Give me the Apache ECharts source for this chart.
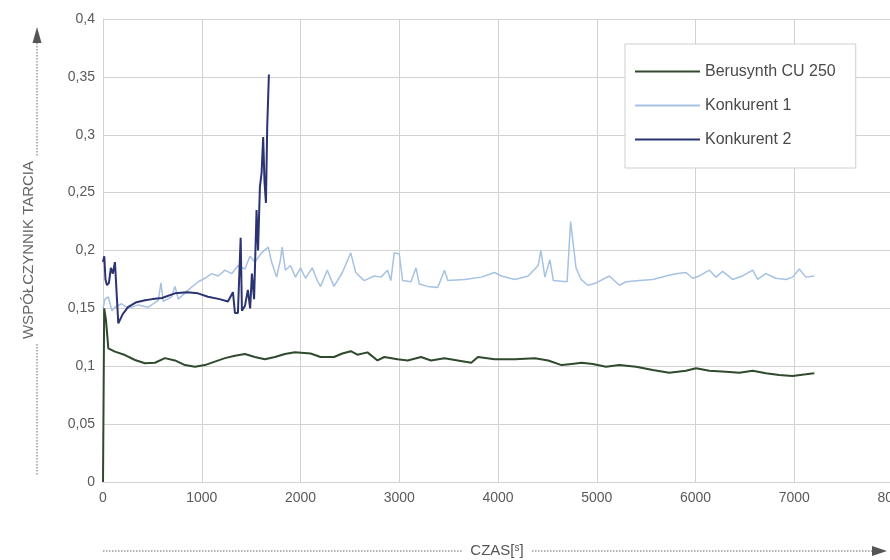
<!DOCTYPE html>
<html>
<head>
<meta charset="utf-8">
<script src="https://cdn.jsdelivr.net/npm/echarts@6/dist/echarts.min.js"></script>
<style>
html,body{margin:0;padding:0;background:#fff;}
#chart{width:890px;height:560px;}
</style>
</head>
<body>
<div id="chart"></div>
<script>
// ---- data (time [s], friction coefficient) ----
const seriesNames = ['Berusynth CU 250', 'Konkurent 1', 'Konkurent 2'];
const yTitle = 'WSPÓŁCZYNNIK TARCIA';
const xTitle = 'CZAS[s]';

const berusynth = [[0,0],[12,0.15],[30,0.14],[54,0.1155],[121,0.1126],[223,0.1097],[324,0.1054],[425,0.1026],[526,0.103],[627,0.107],[729,0.105],[830,0.101],[931,0.0996],[1032,0.101],[1133,0.104],[1235,0.107],[1336,0.109],[1437,0.1106],[1538,0.108],[1639,0.106],[1741,0.108],[1842,0.1106],[1943,0.112],[2102,0.111],[2203,0.108],[2339,0.108],[2424,0.111],[2509,0.113],[2576,0.110],[2678,0.112],[2780,0.105],[2848,0.108],[2983,0.106],[3085,0.105],[3220,0.108],[3322,0.105],[3458,0.107],[3593,0.105],[3729,0.103],[3797,0.108],[3966,0.106],[4170,0.106],[4373,0.107],[4509,0.105],[4644,0.101],[4746,0.102],[4848,0.103],[4960,0.102],[5094,0.0996],[5229,0.101],[5398,0.0996],[5567,0.0968],[5735,0.0944],[5904,0.0961],[6005,0.0982],[6140,0.0961],[6309,0.0953],[6444,0.0944],[6579,0.0961],[6713,0.0939],[6848,0.0924],[6983,0.0916],[7118,0.093],[7203,0.0939]];

const konkurent1 = [[0,0.15],[20,0.158],[54,0.16],[90,0.148],[121,0.151],[189,0.154],[256,0.150],[357,0.153],[459,0.151],[560,0.157],[587,0.172],[610,0.156],[695,0.16],[729,0.169],[762,0.158],[864,0.166],[965,0.173],[1032,0.176],[1100,0.18],[1167,0.178],[1235,0.183],[1302,0.18],[1370,0.187],[1437,0.184],[1488,0.195],[1538,0.19],[1606,0.198],[1673,0.203],[1707,0.19],[1758,0.177],[1797,0.192],[1814,0.203],[1847,0.183],[1898,0.187],[1949,0.177],[2000,0.185],[2051,0.176],[2119,0.185],[2170,0.174],[2203,0.169],[2271,0.183],[2339,0.169],[2424,0.181],[2509,0.198],[2559,0.181],[2644,0.174],[2746,0.178],[2814,0.177],[2881,0.183],[2915,0.174],[2949,0.198],[3000,0.197],[3034,0.174],[3119,0.173],[3170,0.185],[3203,0.171],[3288,0.169],[3390,0.168],[3458,0.183],[3492,0.174],[3661,0.175],[3831,0.177],[3966,0.181],[4034,0.178],[4170,0.175],[4305,0.178],[4407,0.187],[4434,0.2],[4475,0.177],[4526,0.192],[4560,0.174],[4700,0.173],[4735,0.225],[4790,0.185],[4841,0.175],[4909,0.170],[4993,0.172],[5128,0.178],[5229,0.170],[5297,0.173],[5432,0.174],[5567,0.175],[5702,0.178],[5803,0.180],[5904,0.181],[5971,0.176],[6039,0.178],[6140,0.183],[6208,0.177],[6275,0.182],[6376,0.175],[6477,0.178],[6579,0.183],[6629,0.175],[6713,0.180],[6815,0.176],[6916,0.175],[6983,0.177],[7051,0.184],[7118,0.177],[7203,0.178]];

const konkurent2 = [[0,0.19],[13,0.195],[25,0.175],[40,0.17],[60,0.172],[80,0.185],[100,0.18],[121,0.19],[140,0.16],[155,0.137],[200,0.145],[253,0.151],[330,0.155],[425,0.157],[500,0.158],[597,0.159],[729,0.163],[850,0.164],[961,0.163],[1063,0.160],[1180,0.158],[1265,0.156],[1316,0.164],[1336,0.146],[1366,0.146],[1394,0.211],[1407,0.148],[1437,0.152],[1467,0.166],[1490,0.15],[1508,0.18],[1530,0.158],[1555,0.235],[1570,0.2],[1589,0.255],[1606,0.267],[1622,0.298],[1635,0.26],[1650,0.241],[1663,0.307],[1680,0.352]];

const xTicks = {min: 0, max: 8000, interval: 1000};
const yTicks = {min: 0, max: 0.4, interval: 0.05};

// ---- chart ----
const chart = echarts.init(document.getElementById('chart'), null, {renderer: 'canvas'});
const font = 'Liberation Sans, Arial, sans-serif';
const gridColor = '#d2d2d2';
const labelColor = '#5a5a5a';

const option = {
  backgroundColor: '#ffffff',
  animation: false,
  textStyle: {fontFamily: font},
  grid: {left: 103, top: 19, width: 790, height: 463, containLabel: false, outerBoundsMode: 'none'},
  legend: {
    orient: 'vertical',
    left: 625, top: 44,
    padding: [18, 20, 19, 10],
    backgroundColor: '#ffffff',
    borderColor: '#cfcfcf', borderWidth: 1,
    itemWidth: 65, itemHeight: 2, itemGap: 15,
    icon: 'rect',
    textStyle: {fontSize: 16, color: '#4a4a4a', fontFamily: font, lineHeight: 19},
    data: seriesNames
  },
  xAxis: {
    type: 'value', min: xTicks.min, max: xTicks.max, interval: xTicks.interval,
    axisLine: {show: true, lineStyle: {color: gridColor}},
    axisTick: {show: false},
    splitLine: {show: true, lineStyle: {color: gridColor, width: 1}},
    axisLabel: {color: labelColor, fontSize: 14, margin: 9, fontFamily: font, showMaxLabel: true,
      formatter: v => String(v)}
  },
  yAxis: {
    type: 'value', min: yTicks.min, max: yTicks.max, interval: yTicks.interval,
    axisLine: {show: true, lineStyle: {color: gridColor}},
    axisTick: {show: false},
    splitLine: {show: true, lineStyle: {color: gridColor, width: 1}},
    axisLabel: {color: labelColor, fontSize: 14, margin: 8, fontFamily: font,
      formatter: v => String(Math.round(v * 100) / 100).replace('.', ',')}
  },
  series: [
    {name: seriesNames[0], type: 'line', data: berusynth, showSymbol: false, z: 4,
      color: '#2f4a2c', lineStyle: {color: '#2f4a2c', width: 2}},
    {name: seriesNames[1], type: 'line', data: konkurent1, showSymbol: false, z: 3,
      color: '#a6c2e2', lineStyle: {color: '#a6c2e2', width: 1.5}},
    {name: seriesNames[2], type: 'line', data: konkurent2, showSymbol: false, z: 5,
      color: '#2b3473', lineStyle: {color: '#2b3473', width: 2}}
  ],
  graphic: [
    // y-axis title with dotted arrow
    {type: 'text', x: 29, y: 250, rotation: Math.PI / 2,
      style: {text: yTitle, fontSize: 15, fill: '#666', fontFamily: font, align: 'center', verticalAlign: 'middle'}},
    {type: 'line', shape: {x1: 37, y1: 43, x2: 37, y2: 156},
      style: {stroke: '#666', lineWidth: 1, lineDash: [1.5, 1.5]}},
    {type: 'line', shape: {x1: 37, y1: 344, x2: 37, y2: 476},
      style: {stroke: '#666', lineWidth: 1, lineDash: [1.5, 1.5]}},
    {type: 'polygon', shape: {points: [[37, 27], [32.5, 43], [41.5, 43]]}, style: {fill: '#555'}},
    // x-axis title with dotted arrow
    {type: 'text', x: 497, y: 551,
      style: {text: '{a|CZAS[}{b|s}{a|]}', fontFamily: font, align: 'center', verticalAlign: 'middle',
        rich: {a: {fontSize: 15, fill: '#555', fontFamily: font}, b: {fontSize: 10, fill: '#555', fontFamily: font, padding: [0, 0, 6, 0]}}}},
    {type: 'line', shape: {x1: 103, y1: 551, x2: 462, y2: 551},
      style: {stroke: '#666', lineWidth: 1, lineDash: [1.5, 1.5]}},
    {type: 'line', shape: {x1: 532, y1: 551, x2: 873, y2: 551},
      style: {stroke: '#666', lineWidth: 1, lineDash: [1.5, 1.5]}},
    {type: 'polygon', shape: {points: [[887, 551], [872, 546], [872, 556]]}, style: {fill: '#555'}}
  ]
};
chart.setOption(option);
</script>
</body>
</html>
